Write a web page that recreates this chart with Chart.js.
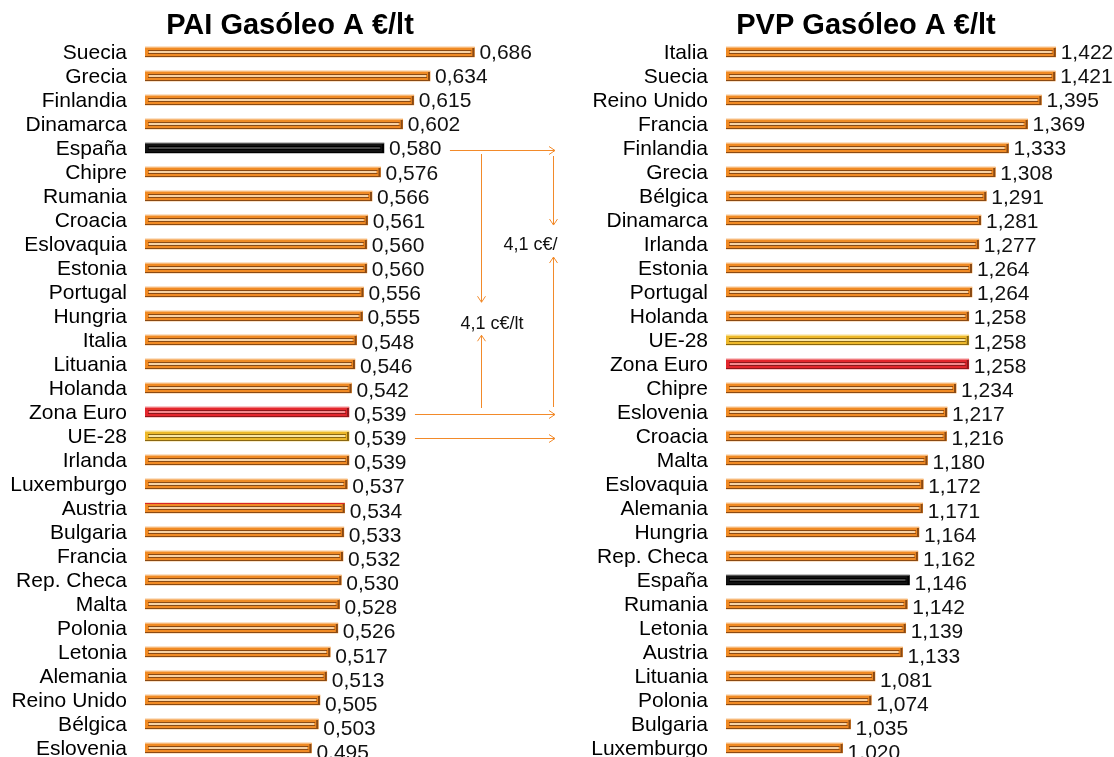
<!DOCTYPE html>
<html>
<head>
<meta charset="utf-8">
<script src="https://cdn.jsdelivr.net/npm/chart.js@4.4.0/dist/chart.umd.min.js"></script>
<style>
  html, body { margin: 0; padding: 0; background: #fff; overflow: hidden; }
  #paiBox { position: absolute; left: 0; top: 0; width: 558px; height: 760px; }
  #pvpBox { position: absolute; left: 558px; top: 0; width: 556px; height: 760px; }
</style>
</head>
<body>
<div id="paiBox"><canvas id="paiChart" width="558" height="760"></canvas></div>
<div id="pvpBox"><canvas id="pvpChart" width="556" height="760"></canvas></div>
<script>
// PAI (precio antes de impuestos)
const paiLabels = ['Suecia', 'Grecia', 'Finlandia', 'Dinamarca', 'España', 'Chipre', 'Rumania', 'Croacia',
  'Eslovaquia', 'Estonia', 'Portugal', 'Hungria', 'Italia', 'Lituania', 'Holanda', 'Zona Euro', 'UE-28',
  'Irlanda', 'Luxemburgo', 'Austria', 'Bulgaria', 'Francia', 'Rep. Checa', 'Malta', 'Polonia', 'Letonia',
  'Alemania', 'Reino Unido', 'Bélgica', 'Eslovenia'];
const paiValues = [0.686, 0.634, 0.615, 0.602, 0.580, 0.576, 0.566, 0.561, 0.560, 0.560, 0.556, 0.555,
  0.548, 0.546, 0.542, 0.539, 0.539, 0.539, 0.537, 0.534, 0.533, 0.532, 0.530, 0.528, 0.526, 0.517,
  0.513, 0.505, 0.503, 0.495];

// PVP (precio de venta al público)
const pvpLabels = ['Italia', 'Suecia', 'Reino Unido', 'Francia', 'Finlandia', 'Grecia', 'Bélgica', 'Dinamarca',
  'Irlanda', 'Estonia', 'Portugal', 'Holanda', 'UE-28', 'Zona Euro', 'Chipre', 'Eslovenia', 'Croacia', 'Malta',
  'Eslovaquia', 'Alemania', 'Hungria', 'Rep. Checa', 'España', 'Rumania', 'Letonia', 'Austria', 'Lituania',
  'Polonia', 'Bulgaria', 'Luxemburgo'];
const pvpValues = [1.422, 1.421, 1.395, 1.369, 1.333, 1.308, 1.291, 1.281, 1.277, 1.264, 1.264, 1.258,
  1.258, 1.258, 1.234, 1.217, 1.216, 1.180, 1.172, 1.171, 1.164, 1.162, 1.146, 1.142, 1.139, 1.133,
  1.081, 1.074, 1.035, 1.020];

const gapText = '4,1 c€/lt';

const palette = {
  orange: { fill: '#F08A24', light: '#F7B877', dark: '#8A4A14', core: '#F8D2A4' },
  black:  { fill: '#121212', light: '#555555', dark: '#000000', core: '#4A4A4A' },
  red:    { fill: '#E3262D', light: '#F07A7E', dark: '#8C171B', core: '#F48A8D' },
  yellow: { fill: '#EDB82A', light: '#F8DC84', dark: '#8A6712', core: '#FAE6A6' },
  orangeRed: { fill: '#F08A24', light: '#D8242A', dark: '#8A4A14', core: '#F8D2A4' }
};

function kindOf(name, left) {
  if (name === 'España') return 'black';
  if (name === 'Zona Euro') return 'red';
  if (name === 'UE-28') return 'yellow';
  if (left && name === 'Austria') return 'orangeRed';
  return 'orange';
}

const fmt = v => v.toFixed(3).replace('.', ',');
const FONT = '"Liberation Sans", Arial, sans-serif';

const barDeco = {
  id: 'barDeco',
  afterDatasetsDraw(chart) {
    const ctx = chart.ctx;
    const ds = chart.data.datasets[0];
    const meta = chart.getDatasetMeta(0);
    const left = chart.chartArea.left;
    ctx.save();
    meta.data.forEach((bar, i) => {
      const p = palette[ds.kinds[i]];
      const h = bar.height;
      const top = bar.y - h / 2, bot = bar.y + h / 2;
      const x0 = Math.max(bar.base, left), x1 = bar.x, w = x1 - x0;
      ctx.fillStyle = p.light;
      ctx.fillRect(x0, top, w, 1);
      ctx.fillStyle = p.dark;
      ctx.fillRect(x0, bot - 1, w, 1);
      ctx.fillRect(x0 + 3, bar.y - 2, w - 6, 1);
      ctx.fillRect(x0 + 3, bar.y + 1, w - 6, 1);
      ctx.fillStyle = p.core;
      ctx.fillRect(x0 + 4, bar.y - 1, w - 8, 2);
      ctx.fillStyle = p.dark;
      ctx.fillRect(x1 - 2, top + 1, 2, h - 2);
      ctx.fillStyle = '#111';
      ctx.font = '21px ' + FONT;
      ctx.textBaseline = 'middle';
      ctx.textAlign = 'left';
      ctx.fillText(fmt(ds.data[i]), x1 + 5, bar.y + 1 + i * 0.15);
    });
    ctx.restore();
  }
};

// move the title sideways so it sits where the original one does
const titleShift = {
  id: 'titleShift',
  afterLayout(chart, args, opts) {
    const t = chart.titleBlock;
    if (t) { t.left += opts.dx; t.right += opts.dx; }
  }
};

function arrowHead(ctx, x, y, dir) {
  ctx.beginPath();
  if (dir === 'right') { ctx.moveTo(x - 6, y - 4); ctx.lineTo(x, y); ctx.lineTo(x - 6, y + 4); }
  if (dir === 'down')  { ctx.moveTo(x - 4, y - 6); ctx.lineTo(x, y); ctx.lineTo(x + 4, y - 6); }
  if (dir === 'up')    { ctx.moveTo(x - 4, y + 6); ctx.lineTo(x, y); ctx.lineTo(x + 4, y + 6); }
  ctx.stroke();
}

function line(ctx, xa, ya, xb, yb) {
  ctx.beginPath();
  ctx.moveTo(xa, ya);
  ctx.lineTo(xb, yb);
  ctx.stroke();
}

const gapArrows = {
  id: 'gapArrows',
  afterDraw(chart) {
    const { ctx, chartArea } = chart;
    const xs = chart.scales.x, ys = chart.scales.y;
    const rowY = n => ys.getPixelForValue(paiLabels.indexOf(n)) + 2;
    const endX = n => xs.getPixelForValue(paiValues[paiLabels.indexOf(n)]) + 66;
    const yE = rowY('España'), yZ = rowY('Zona Euro'), yU = rowY('UE-28');
    const xEnd = chartArea.right - 3;
    const xL = chartArea.right - 76.5, xR = chartArea.right - 4.5;
    const tL = yE + 0.66 * (yZ - yE), tR = yE + 0.36 * (yZ - yE);

    ctx.save();
    ctx.strokeStyle = '#F28A2A';
    ctx.lineWidth = 1;
    // horizontal connectors
    [['España', yE], ['Zona Euro', yZ], ['UE-28', yU]].forEach(([n, y]) => {
      const yy = Math.round(y) + 0.5;
      line(ctx, endX(n), yy, xEnd, yy);
      arrowHead(ctx, xEnd, yy, 'right');
    });
    // left vertical pair
    line(ctx, xL, yE + 4, xL, tL - 22);
    arrowHead(ctx, xL, tL - 22, 'down');
    line(ctx, xL, yZ - 6, xL, tL + 11);
    arrowHead(ctx, xL, tL + 11, 'up');
    // right vertical pair
    line(ctx, xR, yE + 6, xR, tR - 20);
    arrowHead(ctx, xR, tR - 20, 'down');
    line(ctx, xR, yZ - 7, xR, tR + 12);
    arrowHead(ctx, xR, tR + 12, 'up');

    ctx.fillStyle = '#111';
    ctx.font = '18px ' + FONT;
    ctx.textBaseline = 'middle';
    ctx.textAlign = 'left';
    ctx.fillText(gapText, xL - 21, tL);
    ctx.fillText(gapText, xR - 50, tR);
    ctx.restore();
  }
};

function makeChart(id, labels, values, left, opts) {
  const ctx = document.getElementById(id).getContext('2d');
  return new Chart(ctx, {
    type: 'bar',
    data: {
      labels: labels,
      datasets: [{
        data: values,
        kinds: labels.map(n => kindOf(n, left)),
        backgroundColor: labels.map(n => palette[kindOf(n, left)].fill),
        borderWidth: 0,
        barThickness: 10
      }]
    },
    options: {
      indexAxis: 'y',
      responsive: false,
      animation: false,
      layout: { padding: 0 },
      plugins: {
        legend: { display: false },
        tooltip: { enabled: false },
        title: {
          display: true,
          text: opts.title,
          color: '#000',
          font: { family: FONT, size: 29, weight: 'bold', lineHeight: 1 },
          padding: { top: 11, bottom: 0 }
        },
        titleShift: { dx: opts.titleDx }
      },
      scales: {
        x: {
          display: false,
          min: opts.min,
          max: opts.max
        },
        y: {
          grid: { display: false, drawTicks: false },
          border: { display: false },
          ticks: {
            color: '#000',
            padding: 18,
            labelOffset: 1.5,
            font: { family: FONT, size: 21 },
            autoSkip: false
          },
          afterFit: scale => {
            scale.width = opts.axisWidth;
            scale.paddingTop = 0;
            scale.paddingBottom = 0;
          }
        }
      }
    },
    plugins: left ? [barDeco, titleShift, gapArrows] : [barDeco, titleShift]
  });
}

makeChart('paiChart', paiLabels, paiValues, true,
  { title: 'PAI Gasóleo A €/lt', min: 0.3, max: 0.784, axisWidth: 145, titleDx: 11 });
makeChart('pvpChart', pvpLabels, pvpValues, false,
  { title: 'PVP Gasóleo A €/lt', min: 0.8, max: 1.532, axisWidth: 168, titleDx: 30 });
</script>
</body>
</html>
